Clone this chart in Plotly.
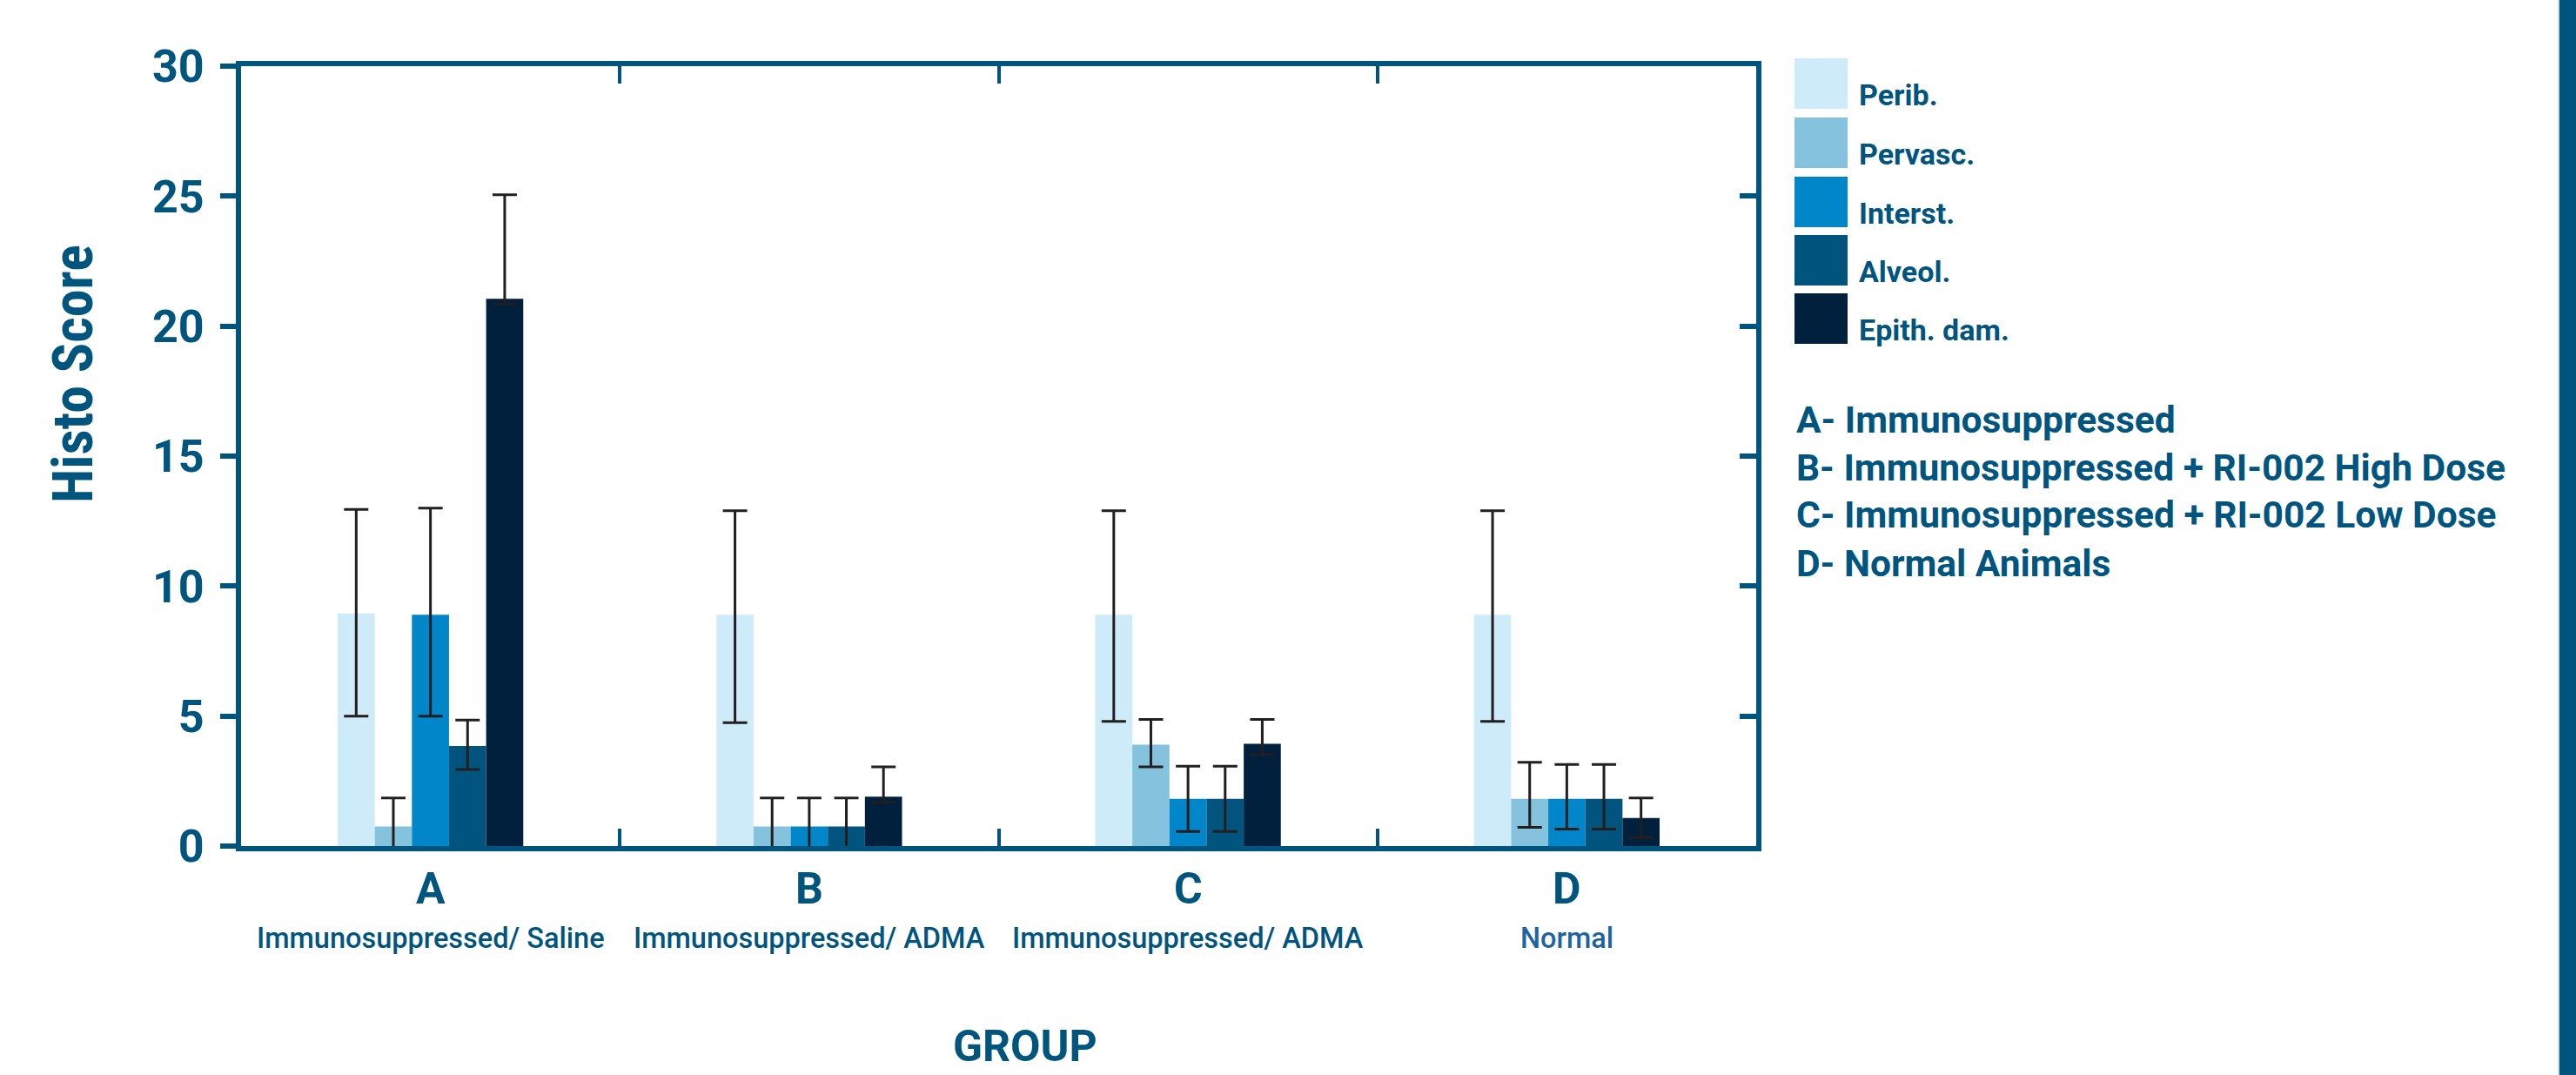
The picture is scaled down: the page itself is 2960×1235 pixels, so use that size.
import plotly.graph_objects as go

# ---------------- data ----------------
groups = ["A", "B", "C", "D"]
group_desc = ["Immunosuppressed/ Saline", "Immunosuppressed/ ADMA",
              "Immunosuppressed/ ADMA", "Normal"]
series_names = ["Perib.", "Pervasc.", "Interst.", "Alveol.", "Epith. dam."]

perib = [8.95, 8.9, 8.9, 8.9]
perib_plus = [4.0, 4.0, 4.0, 4.0]
perib_minus = [3.95, 4.15, 4.1, 4.1]

pervasc = [0.75, 0.75, 3.9, 1.82]
pervasc_plus = [1.1, 1.1, 0.97, 1.4]
pervasc_minus = [1.1, 1.1, 0.85, 1.1]

interst = [8.9, 0.75, 1.82, 1.82]
interst_plus = [4.1, 1.1, 1.25, 1.32]
interst_minus = [3.9, 1.1, 1.26, 1.17]

alveol = [3.85, 0.75, 1.82, 1.82]
alveol_plus = [1.0, 1.1, 1.25, 1.32]
alveol_minus = [0.9, 1.1, 1.26, 1.17]

epith = [21.05, 1.9, 3.93, 1.08]
epith_plus = [4.0, 1.15, 0.94, 0.77]
epith_minus = [0.2, 0.22, 0.41, 0.75]

y_ticks = [0, 5, 10, 15, 20, 25, 30]
group_notes = ["A- Immunosuppressed",
               "B- Immunosuppressed + RI-002 High Dose",
               "C- Immunosuppressed + RI-002 Low Dose",
               "D- Normal Animals"]

# ---------------- style ----------------
colors = ["#cdebf8", "#84c2dd", "#0086c9", "#00547e", "#00203e"]
TXT = "#00557f"
ERR = "#231f20"
FONT = "Roboto, Arial, sans-serif"
COND = "'Roboto Condensed', 'Noto Sans Condensed', 'Liberation Sans Narrow', Roboto, sans-serif"

W, H = 2960, 1235
PL, PR, PT, PB = 277, 2018, 76, 972  # plot area in pixels


def px(x):
    return (x - PL) / (PR - PL)


def py(y):
    return (PB - y) / (PB - PT)


values = [perib, pervasc, interst, alveol, epith]
plus = [perib_plus, pervasc_plus, interst_plus, alveol_plus, epith_plus]
minus = [perib_minus, pervasc_minus, interst_minus, alveol_minus, epith_minus]

fig = go.Figure()
for name, v, p, m, c in zip(series_names, values, plus, minus, colors):
    fig.add_trace(go.Bar(
        x=groups, y=v, name=name, marker_color=c, marker_line_width=0,
        error_y=dict(type="data", symmetric=False, array=p, arrayminus=m,
                     color=ERR, thickness=3, width=14),
        showlegend=False,
    ))

# helper trace so the right-hand (inside) ticks axis is drawn
fig.add_trace(go.Scatter(x=[None], y=[None], yaxis="y2", showlegend=False,
                         hoverinfo="skip", mode="markers"))

shapes = []
annotations = []

# legend swatches + labels
sw_top = [67, 135, 203, 270, 337]
for i, (name, c) in enumerate(zip(series_names, colors)):
    t = sw_top[i]
    shapes.append(dict(type="rect", xref="paper", yref="paper",
                       x0=px(2062), x1=px(2123), y0=py(t + 58), y1=py(t),
                       fillcolor=c, line_width=0))
    annotations.append(dict(xref="paper", yref="paper", x=px(2134), y=py(t + 42),
                            xanchor="left", yanchor="middle", showarrow=False,
                            text=name, font=dict(family=FONT, size=34, color=TXT, weight="bold")))

# group notes
note_y = [482, 537, 591, 647]
for note, yy in zip(group_notes, note_y):
    annotations.append(dict(xref="paper", yref="paper", x=px(2062), y=py(yy),
                            xanchor="left", yanchor="middle", showarrow=False,
                            text=note, font=dict(family=FONT, size=42.5, color=TXT, weight="bold")))

# category labels
desc_colors = [TXT, TXT, TXT, "#1d64a0"]
for g, d, dc in zip(groups, group_desc, desc_colors):
    annotations.append(dict(xref="x", yref="paper", x=g, y=py(1021),
                            xanchor="center", yanchor="middle", showarrow=False,
                            text=g, font=dict(family=FONT, size=50, color=TXT, weight="bold")))
    annotations.append(dict(xref="x", yref="paper", x=g, y=py(1078),
                            xanchor="center", yanchor="middle", showarrow=False,
                            text=d, font=dict(family=FONT, size=32.5, color=dc, weight=500)))

# axis titles
annotations.append(dict(xref="paper", yref="paper", x=px(1178), y=py(1202),
                        xanchor="center", yanchor="middle", showarrow=False,
                        text="GROUP", font=dict(family=FONT, size=50, color=TXT, weight="bold")))
annotations.append(dict(xref="paper", yref="paper", x=px(84), y=py(430),
                        xanchor="center", yanchor="middle", showarrow=False, textangle=-90,
                        text="Histo Score", font=dict(family=COND, size=64, color=TXT, weight="bold")))

# right edge decoration
shapes.append(dict(type="rect", xref="paper", yref="paper",
                   x0=px(2941), x1=px(2965), y0=py(1240), y1=py(-5),
                   fillcolor=TXT, line_width=0))
shapes.append(dict(type="line", xref="paper", yref="paper",
                   x0=px(2940), x1=px(2940), y0=py(1240), y1=py(-5),
                   line=dict(color="#9fb9cb", width=1)))

fig.update_layout(
    width=W, height=H,
    margin=dict(l=PL, r=W - PR, t=PT, b=H - PB, pad=0),
    paper_bgcolor="white", plot_bgcolor="white",
    barmode="group", bargap=0.51, bargroupgap=0,
    showlegend=False,
    shapes=shapes, annotations=annotations,
    xaxis=dict(range=[-0.5, 3.5], showline=True, linewidth=6, linecolor=TXT,
               mirror="ticks", ticks="inside", tickson="boundaries",
               ticklen=20, tickwidth=4, tickcolor=TXT,
               showticklabels=False, showgrid=False, zeroline=False),
    yaxis=dict(range=[0, 30], tickvals=y_ticks, showline=True, linewidth=6,
               linecolor=TXT, mirror=True, ticks="outside", ticklen=18,
               tickwidth=6, tickcolor=TXT, ticklabelstandoff=8,
               tickfont=dict(family=FONT, size=52, color=TXT, weight="bold"),
               showgrid=False, zeroline=False),
    yaxis2=dict(range=[0, 30], tickvals=y_ticks, overlaying="y", side="right",
                ticks="inside", ticklen=19, tickwidth=6, tickcolor=TXT,
                showticklabels=False, showline=False, showgrid=False, zeroline=False),
)

fig.write_html("out.html", config={"displayModeBar": False},
               post_script="document.body.style.margin='0';document.body.style.overflow='hidden';")
